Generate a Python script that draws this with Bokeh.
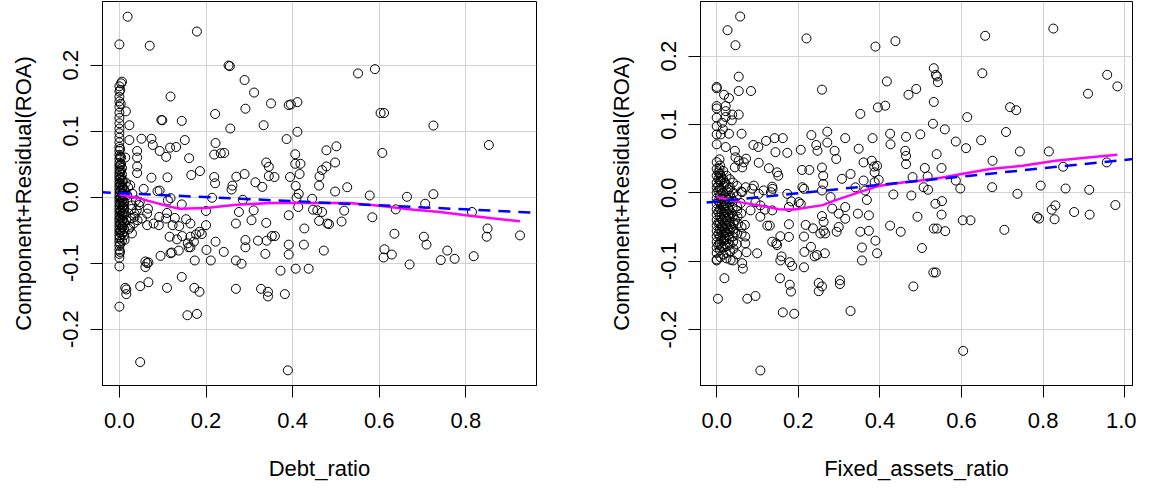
from bokeh.plotting import figure
from bokeh.layouts import row
from bokeh.models import Slope, FixedTicker, Range1d, NumeralTickFormatter
from bokeh.embed import file_html
from bokeh.resources import INLINE

# ---------------- data: Debt_ratio panel ----------------
debt_points = [
    (0.019, 0.2735), (0.000, 0.2315), (0.070, 0.2295), (0.179, 0.251), (0.255, 0.1985), (0.252, 0.1995),
    (0.289, 0.1775), (0.311, 0.1585), (0.350, 0.142), (0.391, 0.1395), (0.396, 0.1405), (0.411, 0.144),
    (0.291, 0.134), (0.221, 0.126), (0.118, 0.1525), (0.097, 0.117), (0.099, 0.1165), (0.144, 0.1155),
    (0.256, 0.104), (0.333, 0.109), (0.411, 0.099), (0.386, 0.088), (0.222, 0.082), (0.219, 0.0645),
    (0.234, 0.0665), (0.242, 0.067), (0.161, 0.059), (0.186, 0.0395), (0.166, 0.0335), (0.219, 0.0305),
    (0.221, 0.021), (0.270, 0.031), (0.289, 0.035), (0.261, 0.0175), (0.259, 0.0115), (0.314, 0.0225),
    (0.330, 0.0155), (0.339, 0.0525), (0.345, 0.046), (0.345, 0.032), (0.358, 0.0305), (0.406, 0.065),
    (0.406, 0.0505), (0.418, 0.0505), (0.416, 0.035), (0.394, 0.0305), (0.407, 0.017), (0.462, 0.0315),
    (0.461, 0.0175), (0.468, 0.041),
    (0.041, 0.07), (0.051, 0.0885), (0.074, 0.0885), (0.077, 0.079), (0.093, 0.07), (0.108, 0.061),
    (0.117, 0.075), (0.131, 0.076), (0.151, 0.0865), (0.041, 0.06), (0.041, 0.0465), (0.041, 0.0365),
    (0.074, 0.0295), (0.111, 0.03), (0.056, 0.0125), (0.088, 0.009), (0.093, 0.01),
    (0.006, 0.175), (0.004, 0.1725), (0.002, 0.1625), (0.015, 0.13), (0.023, 0.109), (0.023, 0.0865),
    (0.0135, 0.06), (0.003, 0.1415),
    (0.048, -0.25), (0.389, -0.2625), (0.000, -0.166), (0.157, -0.179), (0.179, -0.177), (0.0135, -0.1375),
    (0.016, -0.14), (0.016, -0.147), (0.048, -0.135), (0.067, -0.129), (0.110, -0.1375), (0.144, -0.121),
    (0.173, -0.1375), (0.185, -0.1435), (0.269, -0.139), (0.327, -0.139), (0.343, -0.1435), (0.343, -0.1505),
    (0.382, -0.147), (0.372, -0.1115), (0.407, -0.1085), (0.437, -0.1085), (0.000, -0.105), (0.060, -0.0975),
    (0.064, -0.100), (0.067, -0.099), (0.060, -0.106), (0.095, -0.089), (0.118, -0.085), (0.121, -0.084),
    (0.137, -0.081), (0.158, -0.070), (0.164, -0.076), (0.174, -0.096), (0.201, -0.080), (0.211, -0.096),
    (0.241, -0.083), (0.269, -0.096), (0.282, -0.101), (0.291, -0.065), (0.291, -0.076), (0.320, -0.066),
    (0.337, -0.086), (0.340, -0.066), (0.352, -0.059), (0.359, -0.059), (0.391, -0.072), (0.391, -0.087),
    (0.426, -0.072), (0.427, -0.0475), (0.222, -0.0675), (0.200, -0.0425), (0.190, -0.056),
    (0.064, -0.0425), (0.092, -0.030), (0.108, -0.0325), (0.091, -0.0425), (0.079, -0.040), (0.128, -0.0315),
    (0.123, -0.0425), (0.138, -0.044), (0.154, -0.0335), (0.164, -0.040), (0.145, -0.059), (0.133, -0.064),
    (0.116, -0.060), (0.164, -0.060), (0.177, -0.0565), (0.185, -0.0525), (0.172, -0.0675), (0.160, -0.076),
    (0.118, -0.0015), (0.112, -0.005), (0.144, -0.011), (0.110, -0.024), (0.066, -0.0175), (0.047, -0.0075),
    (0.029, -0.0125), (0.027, -0.0325), (0.035, -0.025), (0.064, -0.025), (0.052, -0.0325),
    (0.214, -0.001), (0.200, -0.021), (0.285, -0.004), (0.276, -0.0225), (0.269, -0.040), (0.310, -0.020),
    (0.305, -0.035), (0.339, -0.039), (0.391, -0.0275), (0.413, -0.015), (0.414, 0.005), (0.409, -0.001),
    (0.445, -0.0025), (0.447, -0.019), (0.457, -0.020), (0.461, -0.036),
    (0.551, 0.1875), (0.590, 0.194), (0.603, 0.1275), (0.611, 0.1275), (0.725, 0.1085), (0.853, 0.079),
    (0.607, 0.067), (0.478, 0.071), (0.501, 0.077), (0.478, 0.0465), (0.498, 0.0525), (0.498, 0.0085),
    (0.526, 0.015), (0.578, 0.0025), (0.664, 0.0005), (0.725, 0.0045), (0.519, -0.0205), (0.468, -0.0225),
    (0.480, -0.040), (0.484, -0.041), (0.513, -0.037), (0.584, -0.0305), (0.638, -0.0185), (0.706, -0.010),
    (0.814, -0.0225), (0.635, -0.0555), (0.703, -0.060), (0.709, -0.072), (0.850, -0.0475), (0.848, -0.060),
    (0.925, -0.058), (0.612, -0.079), (0.610, -0.0915), (0.629, -0.087), (0.670, -0.102), (0.757, -0.081),
    (0.742, -0.0955), (0.774, -0.0935), (0.818, -0.0895), (0.472, -0.081),
    (0.016, -0.035), (0.025, -0.045), (0.029, -0.055), (0.033, -0.040), (0.012, -0.065), (0.022, -0.048),
    (0.035, -0.030), (0.040, -0.020), (0.045, -0.012), (0.038, -0.005), (0.030, 0.005), (0.020, 0.015),
    (0.015, 0.022), (0.025, 0.018), (0.018, 0.003), (0.010, -0.012), (0.028, -0.018), (0.012, -0.025),
    (0.042, -0.035),
]
# dense column of firms with Debt_ratio near zero
debt_col_x = [0.0] * 45 + [0.004] * 12 + [0.008] * 8 + [0.0015] * 16 + [0.006] * 12 + [0.011] * 8
debt_col_y = [0.168, 0.160, 0.152, 0.145, 0.137, 0.128, 0.120, 0.112, 0.104, 0.097, 0.090, 0.083,
              0.076, 0.070, 0.064, 0.058, 0.052, 0.047, 0.042, 0.037, 0.032, 0.027, 0.022, 0.017,
              0.012, 0.007, 0.002, -0.003, -0.008, -0.013, -0.018, -0.023, -0.028, -0.033, -0.038,
              -0.043, -0.048, -0.053, -0.058, -0.063, -0.068, -0.074, -0.080, -0.086, -0.092,
              0.060, 0.050, 0.040, 0.030, 0.020, 0.010, 0.000, -0.010, -0.020, -0.030, -0.040, -0.050,
              0.025, 0.015, 0.005, -0.005, -0.015, -0.025, -0.035, -0.045,
              0.073, 0.061, 0.049, 0.039, 0.029, 0.019, 0.009, -0.001, -0.011, -0.021, -0.031, -0.041,
              -0.051, -0.061, -0.071, -0.083,
              0.044, 0.034, 0.024, 0.014, 0.004, -0.006, -0.016, -0.026, -0.036, -0.046, -0.056, -0.066,
              0.012, 0.002, -0.008, -0.018, -0.028, -0.038, -0.048, -0.058]
debt_fit = (0.0062, -0.031)   # intercept, slope of the linear component
debt_smooth_x = [0.0, 0.04, 0.08, 0.12, 0.14, 0.20, 0.27, 0.35, 0.45, 0.53, 0.60, 0.68, 0.74, 0.80, 0.86, 0.925]
debt_smooth_y = [0.004, -0.001, -0.008, -0.015, -0.0175, -0.0165, -0.0115, -0.009, -0.009, -0.009,
                 -0.013, -0.019, -0.0225, -0.0275, -0.032, -0.0365]
debt_xticks = [0.0, 0.2, 0.4, 0.6, 0.8]

# ---------------- data: Fixed_assets_ratio panel ----------------
fixed_points = [
    (0.0575, 0.258), (0.0265, 0.238), (0.046, 0.216), (0.220, 0.226), (0.389, 0.214), (0.438, 0.222),
    (0.054, 0.170), (0.000, 0.155), (0.000, 0.153), (0.018, 0.1435), (0.030, 0.1385), (0.054, 0.149),
    (0.084, 0.149), (0.258, 0.151), (0.000, 0.127), (0.000, 0.1235), (0.022, 0.127), (0.022, 0.1195),
    (0.038, 0.1145), (0.022, 0.111), (0.037, 0.106), (0.000, 0.110), (0.054, 0.1145), (0.000, 0.0975),
    (0.013, 0.1025), (0.015, 0.093), (0.010, 0.0855), (0.000, 0.0855), (0.030, 0.0865), (0.000, 0.071),
    (0.022, 0.067), (0.061, 0.0865), (0.352, 0.1155), (0.395, 0.125), (0.413, 0.1275), (0.417, 0.163),
    (0.470, 0.1435), (0.489, 0.152), (0.090, 0.070), (0.102, 0.067), (0.121, 0.076), (0.142, 0.080),
    (0.162, 0.080), (0.144, 0.0595), (0.173, 0.0585), (0.0445, 0.0615), (0.046, 0.052), (0.054, 0.047),
    (0.0665, 0.0445), (0.072, 0.050), (0.0445, 0.0373), (0.0625, 0.0373), (0.103, 0.044), (0.007, 0.049),
    (0.007, 0.035), (0.0095, 0.025), (0.0095, 0.018), (0.128, 0.036), (0.148, 0.030), (0.151, 0.025),
    (0.136, 0.009), (0.091, 0.0105), (0.087, 0.006), (0.115, 0.0035), (0.232, 0.0845), (0.271, 0.0895),
    (0.271, 0.0735), (0.244, 0.070), (0.247, 0.0615), (0.289, 0.0615), (0.315, 0.080), (0.293, 0.0495),
    (0.209, 0.0335), (0.227, 0.0335), (0.258, 0.037), (0.261, 0.025), (0.261, 0.013), (0.348, 0.0645),
    (0.360, 0.0445), (0.380, 0.047), (0.386, 0.0385), (0.393, 0.0395), (0.387, 0.030), (0.397, 0.019),
    (0.307, 0.0205), (0.328, 0.0275), (0.340, 0.008), (0.382, 0.080), (0.425, 0.0865), (0.426, 0.071),
    (0.464, 0.082), (0.499, 0.0855), (0.464, 0.054), (0.464, 0.042), (0.462, 0.0615), (0.480, 0.023),
    (0.517, 0.024), (0.206, 0.063), (0.360, 0.018),
    (0.107, -0.260), (0.003, -0.155), (0.075, -0.155), (0.095, -0.151), (0.162, -0.175), (0.190, -0.177),
    (0.328, -0.173), (0.019, -0.125), (0.155, -0.125), (0.179, -0.1345), (0.182, -0.1445), (0.250, -0.132),
    (0.258, -0.137), (0.250, -0.144), (0.302, -0.128), (0.302, -0.1335), (0.482, -0.137), (0.000, -0.0975),
    (0.000, -0.099), (0.024, -0.096), (0.040, -0.099), (0.0625, -0.103), (0.064, -0.111), (0.156, -0.099),
    (0.179, -0.1015), (0.185, -0.107), (0.214, -0.109), (0.073, -0.087), (0.099, -0.0885), (0.159, -0.093),
    (0.148, -0.0765), (0.136, -0.0715), (0.146, -0.074), (0.215, -0.0865), (0.240, -0.093), (0.246, -0.091),
    (0.265, -0.0885), (0.356, -0.099), (0.356, -0.080), (0.389, -0.070), (0.393, -0.0885), (0.214, -0.064),
    (0.231, -0.079), (0.156, -0.0635), (0.177, -0.0645), (0.177, -0.046), (0.124, -0.048), (0.130, -0.048),
    (0.218, -0.047), (0.236, -0.052), (0.262, -0.0425), (0.266, -0.0595), (0.258, -0.034), (0.262, -0.0555),
    (0.254, -0.0595), (0.294, -0.057), (0.299, -0.050), (0.315, -0.038), (0.283, -0.023), (0.299, -0.0305),
    (0.315, -0.0208), (0.279, -0.0063), (0.258, 0.0034), (0.346, -0.0305), (0.373, -0.033), (0.352, -0.057),
    (0.373, -0.0556), (0.425, -0.048), (0.451, -0.057), (0.492, -0.035), (0.433, -0.0024), (0.477, -0.0039),
    (0.507, 0.0082), (0.387, 0.0155), (0.364, 0.0034), (0.107, -0.035), (0.107, -0.0184), (0.095, -0.0136),
    (0.083, -0.0257), (0.118, -0.0247), (0.136, -0.0257), (0.133, 0.001), (0.137, 0.0058), (0.173, -0.0015),
    (0.177, -0.0208), (0.201, -0.0136), (0.214, 0.0058), (0.210, 0.0082), (0.071, 0.0082), (0.0625, 0.001),
    (0.103, -0.0015), (0.368, -0.0105), (0.206, -0.016), (0.183, -0.0125), (0.034, -0.098),
    (0.070, -0.064), (0.070, -0.074), (0.061, -0.050), (0.052, -0.045), (0.050, -0.026), (0.069, -0.047),
    (0.658, 0.2298), (0.825, 0.2404), (0.532, 0.1824), (0.540, 0.1703), (0.542, 0.162), (0.537, 0.1727),
    (0.651, 0.175), (0.957, 0.1727), (0.982, 0.1558), (0.910, 0.1451), (0.532, 0.133), (0.719, 0.1253),
    (0.734, 0.1209), (0.614, 0.1108), (0.530, 0.1011), (0.559, 0.0929), (0.709, 0.089), (0.586, 0.075),
    (0.611, 0.0653), (0.648, 0.0769), (0.539, 0.0566), (0.743, 0.0605), (0.814, 0.0605), (0.510, 0.0363),
    (0.551, 0.0363), (0.676, 0.0469), (0.956, 0.0445), (0.849, 0.0382), (0.586, 0.0179), (0.597, 0.0063),
    (0.518, 0.0044), (0.675, 0.0082), (0.794, 0.0106), (0.855, 0.0063), (0.913, 0.0044), (0.737, -0.0015),
    (0.536, -0.016), (0.552, -0.0121), (0.551, -0.0319), (0.603, -0.0402), (0.622, -0.0402), (0.785, -0.0353),
    (0.790, -0.0377), (0.821, -0.0247), (0.830, -0.0184), (0.828, -0.0387), (0.876, -0.0281), (0.914, -0.0319),
    (0.977, -0.0179), (0.705, -0.0542), (0.532, -0.0523), (0.540, -0.0523), (0.560, -0.0561), (0.503, -0.0808),
    (0.531, -0.1166), (0.537, -0.1166), (0.604, -0.2313),
]
# dense cluster of firms with Fixed_assets_ratio near zero
fixed_cluster = [
    (0.000, 0.045), (0.000, 0.035), (0.000, 0.025), (0.000, 0.015), (0.000, 0.008), (0.000, 0.000),
    (0.000, -0.008), (0.000, -0.016), (0.000, -0.024), (0.000, -0.032), (0.000, -0.040), (0.000, -0.048),
    (0.000, -0.056), (0.000, -0.064), (0.000, -0.072), (0.000, -0.080), (0.000, -0.088),
    (0.008, 0.040), (0.008, 0.028), (0.008, 0.016), (0.008, 0.006), (0.008, -0.004), (0.008, -0.014),
    (0.008, -0.024), (0.008, -0.034), (0.008, -0.044), (0.008, -0.054), (0.008, -0.064), (0.008, -0.074),
    (0.008, -0.084), (0.009, -0.094),
    (0.016, 0.032), (0.016, 0.020), (0.017, 0.010), (0.016, 0.000), (0.015, -0.010), (0.016, -0.020),
    (0.017, -0.030), (0.016, -0.040), (0.015, -0.050), (0.016, -0.060), (0.017, -0.070), (0.016, -0.080),
    (0.016, -0.090),
    (0.024, 0.025), (0.024, 0.012), (0.025, 0.002), (0.024, -0.008), (0.023, -0.018), (0.024, -0.028),
    (0.025, -0.038), (0.024, -0.048), (0.023, -0.058), (0.024, -0.068), (0.025, -0.078), (0.024, -0.088),
    (0.032, 0.020), (0.032, 0.008), (0.033, -0.004), (0.032, -0.014), (0.031, -0.026), (0.032, -0.036),
    (0.033, -0.046), (0.032, -0.056), (0.031, -0.066), (0.032, -0.076), (0.033, -0.086),
    (0.040, 0.015), (0.041, 0.000), (0.040, -0.012), (0.039, -0.022), (0.040, -0.034), (0.041, -0.044),
    (0.040, -0.054), (0.039, -0.064), (0.040, -0.072), (0.041, -0.082),
    (0.050, 0.010), (0.049, -0.005), (0.050, -0.020), (0.051, -0.035), (0.050, -0.060), (0.049, -0.075),
    (0.050, -0.090), (0.060, 0.002), (0.059, -0.015), (0.060, -0.030), (0.061, -0.060),
    (0.004, 0.030), (0.004, 0.020), (0.004, 0.010), (0.004, 0.003), (0.004, -0.012), (0.004, -0.028),
    (0.004, -0.044), (0.004, -0.060), (0.004, -0.076),
    (0.012, 0.022), (0.012, 0.004), (0.012, -0.009), (0.012, -0.019), (0.012, -0.029), (0.012, -0.039),
    (0.012, -0.049), (0.012, -0.059), (0.012, -0.069), (0.012, -0.079),
    (0.020, 0.015), (0.020, -0.005), (0.020, -0.015), (0.020, -0.025), (0.020, -0.035), (0.020, -0.045),
    (0.020, -0.055), (0.020, -0.065), (0.020, -0.075),
    (0.028, 0.005), (0.028, -0.010), (0.028, -0.022), (0.028, -0.032), (0.028, -0.042), (0.028, -0.052),
    (0.028, -0.062), (0.036, -0.008), (0.036, -0.030), (0.036, -0.050), (0.045, -0.040), (0.045, -0.058),
]
fixed_fit = (-0.0128, 0.061)   # intercept, slope of the linear component
fixed_smooth_x = [0.0, 0.06, 0.13, 0.15, 0.19, 0.26, 0.29, 0.35, 0.40, 0.46, 0.50, 0.55, 0.60, 0.67,
                  0.75, 0.83, 0.91, 0.982]
fixed_smooth_y = [-0.006, -0.014, -0.021, -0.024, -0.0245, -0.018, -0.011, 0.001, 0.0105, 0.0155,
                  0.018, 0.022, 0.0276, 0.0348, 0.0397, 0.0469, 0.0518, 0.0556]
fixed_xticks = [0.0, 0.2, 0.4, 0.6, 0.8, 1.0]

y_ticks = [-0.2, -0.1, 0.0, 0.1, 0.2]
y_label = "Component+Residual(ROA)"

FONT = "Liberation Sans"
FS = "22px"


def panel(xs, ys, sx, sy, fit, xlabel, xr, yr, xticks, width, border_right):
    p = figure(width=width, height=487, x_range=Range1d(*xr), y_range=Range1d(*yr),
               output_backend="svg", toolbar_location=None,
               min_border_left=102, min_border_right=border_right,
               min_border_top=1, min_border_bottom=102)
    p.background_fill_color = "white"
    p.border_fill_color = "white"
    p.outline_line_color = "black"
    p.outline_line_width = 1
    p.outline_line_alpha = 1.0

    p.xaxis.ticker = FixedTicker(ticks=xticks)
    p.yaxis.ticker = FixedTicker(ticks=y_ticks)
    p.xaxis.formatter = NumeralTickFormatter(format="0.0")
    p.yaxis.formatter = NumeralTickFormatter(format="0.0")
    for ax in (p.xaxis, p.yaxis):
        ax.axis_line_color = "black"
        ax.major_tick_line_color = "black"
        ax.major_tick_out = 12
        ax.major_tick_in = 0
        ax.minor_tick_line_color = None
        ax.major_label_text_font = FONT
        ax.major_label_text_font_size = FS
        ax.major_label_text_color = "black"
        ax.axis_label_text_font = FONT
        ax.axis_label_text_font_size = FS
        ax.axis_label_text_font_style = "normal"
        ax.axis_label_text_color = "black"
    p.xaxis.axis_label = xlabel
    p.yaxis.axis_label = y_label
    p.yaxis.major_label_orientation = "vertical"
    p.xaxis.major_label_standoff = 15
    p.xaxis.axis_label_standoff = 25
    p.yaxis.major_label_standoff = 12
    p.yaxis.axis_label_standoff = 25

    p.grid.grid_line_color = "#D3D3D3"
    p.grid.grid_line_width = 1

    p.scatter(xs, ys, marker="circle", size=9, fill_color=None, line_color="black", line_width=1)
    p.add_layout(Slope(gradient=fit[1], y_intercept=fit[0], line_color="blue",
                       line_dash="12 8", line_width=2.5))
    p.line(sx, sy, line_color="magenta", line_width=2.5)
    return p


dx = [pt[0] for pt in debt_points] + debt_col_x
dy = [pt[1] for pt in debt_points] + debt_col_y
fx = [pt[0] for pt in fixed_points] + [pt[0] for pt in fixed_cluster]
fy = [pt[1] for pt in fixed_points] + [pt[1] for pt in fixed_cluster]

p1 = panel(dx, dy, debt_smooth_x, debt_smooth_y, debt_fit, "Debt_ratio",
           (-0.039, 0.963), (-0.2855, 0.2965), debt_xticks, 598, 62)
p2 = panel(fx, fy, fixed_smooth_x, fixed_smooth_y, fixed_fit, "Fixed_assets_ratio",
           (-0.0397, 1.019), (-0.282, 0.280), fixed_xticks, 538, 4)

layout = row(p1, p2)
open("out.html", "w").write(file_html(layout, INLINE))
